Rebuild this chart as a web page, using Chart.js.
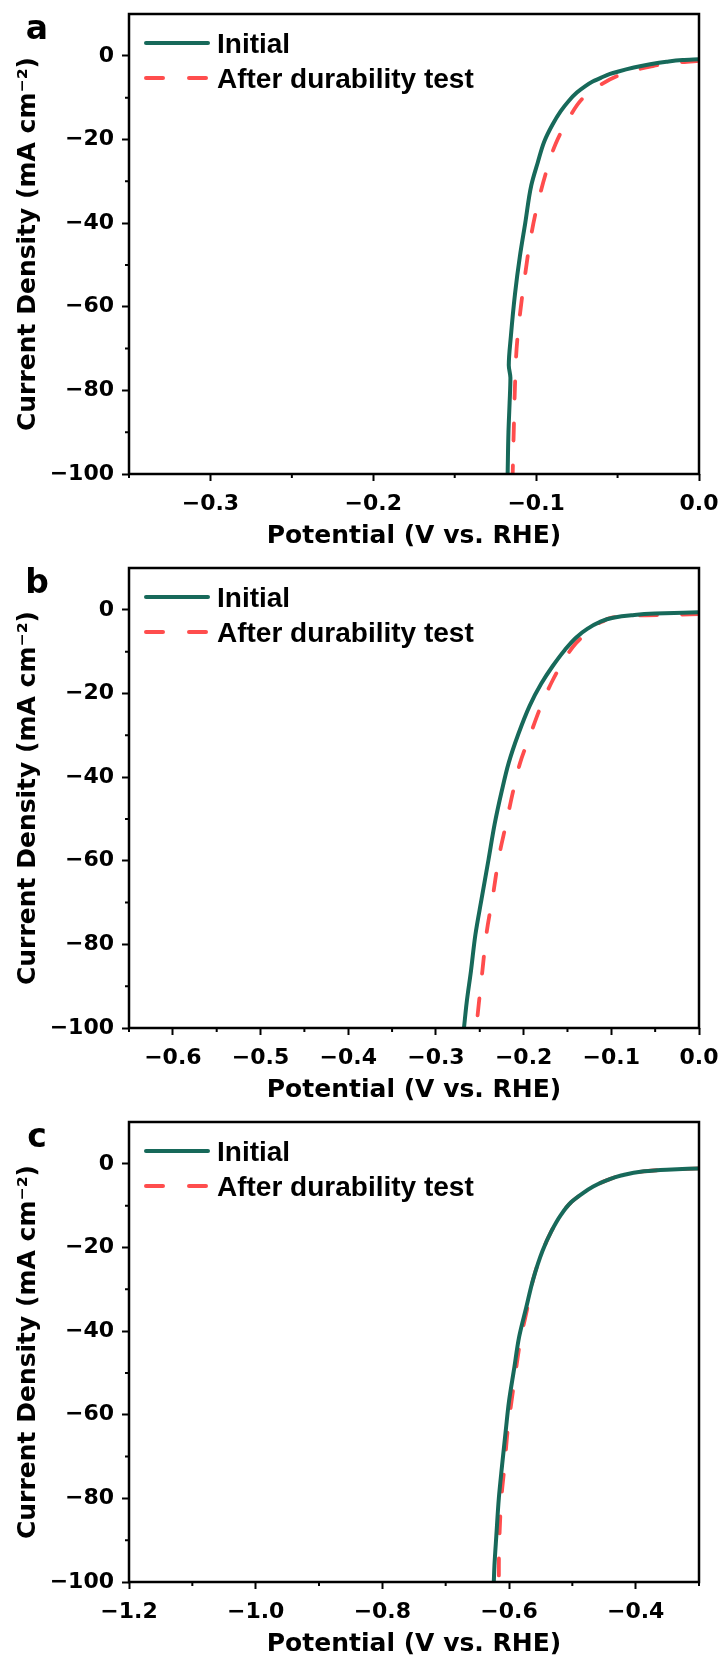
<!DOCTYPE html>
<html>
<head>
<meta charset="utf-8">
<script src="https://cdn.jsdelivr.net/npm/chart.js@4.4.1/dist/chart.umd.min.js"></script>
<style>
  html, body { margin: 0; padding: 0; background: #fff; }
  canvas { display: block; }
</style>
</head>
<body>
<canvas id="panelA" width="724" height="554"></canvas>
<canvas id="panelB" width="724" height="554"></canvas>
<canvas id="panelC" width="724" height="554"></canvas>
<script>
// tick labels
const yTicks = [0, -20, -40, -60, -80, -100];
const yMinor = [-10, -30, -50, -70, -90];
const xTicksA = [-0.3, -0.2, -0.1, 0.0];
const xMinorA = [-0.35, -0.25, -0.15, -0.05];
const xTicksB = [-0.6, -0.5, -0.4, -0.3, -0.2, -0.1, 0.0];
const xMinorB = [-0.65, -0.55, -0.45, -0.35, -0.25, -0.15, -0.05];
const xTicksC = [-1.2, -1.0, -0.8, -0.6, -0.4];
const xMinorC = [-1.1, -0.9, -0.7, -0.5, -0.3];

// panel a
const aInitialV = [0, -0.01, -0.02, -0.03, -0.04, -0.05, -0.055, -0.06, -0.065, -0.07, -0.075, -0.08, -0.085, -0.09, -0.095, -0.099, -0.103, -0.1067, -0.110, -0.113, -0.1155, -0.1168, -0.1158, -0.1163, -0.117, -0.1175];
const aInitialJ = [-0.8, -1.0, -1.4, -2.0, -2.8, -3.8, -4.4, -5.2, -6.1, -7.3, -8.8, -10.8, -13.3, -16.5, -20.5, -25.5, -31, -40, -48, -57, -67, -74, -77, -83, -90, -100];
const aAfterV = [0, -0.01, -0.02, -0.03, -0.04, -0.05, -0.06, -0.071, -0.08, -0.088, -0.094, -0.1, -0.104, -0.107, -0.110, -0.112, -0.113, -0.1137, -0.1144];
const aAfterJ = [-1.2, -1.5, -1.9, -2.6, -3.5, -4.8, -6.8, -10, -15, -21, -28, -37, -45, -53, -62, -70, -79, -89, -100];

// panel b
const bInitialV = [0, -0.05, -0.077, -0.098, -0.114, -0.127, -0.140, -0.153, -0.167, -0.180, -0.193, -0.206, -0.217, -0.225, -0.233, -0.240, -0.248, -0.255, -0.260, -0.265, -0.268];
const bInitialJ = [-0.6, -0.9, -1.3, -1.9, -3.0, -4.5, -6.6, -9.6, -13.5, -17.7, -22.9, -29.7, -36.6, -43.4, -51.2, -59.7, -69.2, -77.7, -86.3, -94, -100];
const bAfterV = [0, -0.035, -0.061, -0.088, -0.109, -0.124, -0.140, -0.153, -0.167, -0.180, -0.193, -0.204, -0.212, -0.220, -0.228, -0.235, -0.242, -0.247, -0.251, -0.254];
const bAfterJ = [-1.0, -1.2, -1.3, -1.6, -2.7, -4.9, -7.9, -11.7, -16.9, -22.9, -30.2, -36.6, -43.4, -51.2, -58.9, -68.3, -76.9, -86.3, -94, -100];

// panel c
const cInitialV = [-0.3, -0.351, -0.387, -0.423, -0.445, -0.467, -0.486, -0.502, -0.518, -0.533, -0.547, -0.562, -0.573, -0.584, -0.592, -0.600, -0.605, -0.611, -0.616, -0.620, -0.623, -0.624];
const cInitialJ = [-1.1, -1.4, -1.8, -2.8, -3.9, -5.4, -7.3, -9.2, -12.2, -16.1, -20.8, -27.7, -34.5, -41.4, -49.1, -56.8, -63.6, -72.2, -79.9, -88.9, -96.1, -100];
const cAfterV = [-0.3, -0.351, -0.387, -0.423, -0.445, -0.467, -0.486, -0.502, -0.518, -0.533, -0.547, -0.562, -0.571, -0.581, -0.589, -0.596, -0.602, -0.607, -0.612, -0.615, -0.616, -0.616];
const cAfterJ = [-1.1, -1.4, -1.8, -2.8, -3.9, -5.4, -7.3, -9.2, -12.2, -16.1, -20.8, -27.7, -34.5, -41.4, -49.1, -56.8, -63.6, -72.2, -79.9, -88.9, -96.1, -100];

const GREEN = '#17695A';
const RED = '#FF4D4D';
const tickFont = { family: '"DejaVu Sans"', size: 22, weight: 'bold' };
const titleFont = { family: '"DejaVu Sans"', size: 25, weight: 'bold' };

const toPoints = (vs, js) => vs.map((v, i) => ({ x: v, y: js[i] }));
const minus = (v, d) => (v < -1e-9 ? '\u2212' : '') + Math.abs(v).toFixed(d);

// frame, minor ticks, panel letter and legend
const decor = {
  id: 'decor',
  afterDraw(chart, args, opts) {
    const { ctx, chartArea: a, scales: { x, y } } = chart;
    ctx.save();
    ctx.strokeStyle = '#000';
    ctx.lineWidth = 2;
    ctx.beginPath();
    opts.xMinor.forEach(v => {
      const px = x.getPixelForValue(v);
      ctx.moveTo(px, a.bottom);
      ctx.lineTo(px, a.bottom + 4);
    });
    opts.yMinor.forEach(v => {
      const py = y.getPixelForValue(v);
      ctx.moveTo(a.left, py);
      ctx.lineTo(a.left - 4, py);
    });
    ctx.stroke();
    ctx.lineWidth = 2.5;
    ctx.strokeRect(a.left, a.top, a.right - a.left, a.bottom - a.top);

    ctx.fillStyle = '#000';
    ctx.font = 'bold 33px "DejaVu Sans"';
    ctx.textAlign = 'center';
    ctx.textBaseline = 'alphabetic';
    ctx.fillText(opts.letter, 37, 38.5);

    // legend
    ctx.lineWidth = 4;
    ctx.lineCap = 'round';
    ctx.strokeStyle = GREEN;
    ctx.beginPath();
    ctx.moveTo(146, 43); ctx.lineTo(208, 43);
    ctx.stroke();
    ctx.strokeStyle = RED;
    ctx.setLineDash([17, 26]);
    ctx.beginPath();
    ctx.moveTo(146, 78); ctx.lineTo(208, 78);
    ctx.stroke();
    ctx.setLineDash([]);
    ctx.font = 'bold 28px "Liberation Sans"';
    ctx.textAlign = 'left';
    ctx.fillText(chart.data.datasets[0].label, 217, 53);
    ctx.fillText(chart.data.datasets[1].label, 217, 88);
    ctx.restore();
  }
};

function buildPanel(id, letter, xMin, xMax, xMajor, xMinor, iV, iJ, dV, dJ) {
  return new Chart(document.getElementById(id), {
    type: 'line',
    data: {
      datasets: [{
        label: 'Initial',
        data: toPoints(iV, iJ),
        borderColor: GREEN,
        borderWidth: 4,
        pointRadius: 0,
        cubicInterpolationMode: 'monotone',
        fill: false,
      }, {
        label: 'After durability test',
        data: toPoints(dV, dJ),
        borderColor: RED,
        borderWidth: 3.8,
        borderDash: [17, 25],
        borderCapStyle: 'round',
        pointRadius: 0,
        cubicInterpolationMode: 'monotone',
        fill: false,
      }],
    },
    options: {
      indexAxis: 'y', // current density is monotone, so interpolate along it
      responsive: false,
      animation: false,
      events: [],
      layout: { padding: { top: 14, right: 25, left: 0, bottom: 0 } },
      plugins: {
        legend: { display: false },
        tooltip: { enabled: false },
        decor: { letter, xMinor, yMinor },
      },
      scales: {
        x: {
          type: 'linear',
          position: 'bottom',
          min: xMin,
          max: xMax,
          afterBuildTicks: s => { s.ticks = xMajor.map(v => ({ value: v })); },
          afterFit: s => { s.height = 80; s.paddingLeft = 0; s.paddingRight = 0; },
          ticks: { font: tickFont, color: '#000', padding: 10, maxRotation: 0, autoSkip: false, callback: v => minus(v, 1) },
          grid: { drawOnChartArea: false, tickLength: 7, tickWidth: 2, tickColor: '#000' },
          border: { display: false },
          title: { display: true, text: 'Potential (V vs. RHE)', font: titleFont, color: '#000', padding: { top: 0, bottom: 3 } },
        },
        y: {
          type: 'linear',
          position: 'left',
          min: -100,
          max: 10,
          afterBuildTicks: s => { s.ticks = yTicks.map(v => ({ value: v })); },
          afterFit: s => { s.width = 129; s.paddingTop = 0; s.paddingBottom = 0; },
          ticks: { font: tickFont, color: '#000', padding: 8, autoSkip: false, callback: v => minus(v, 0) },
          grid: { drawOnChartArea: false, tickLength: 7, tickWidth: 2, tickColor: '#000' },
          border: { display: false },
          title: { display: true, text: 'Current Density (mA cm\u207B\u00B2)', font: titleFont, color: '#000', padding: { top: 13, bottom: 0 } },
        },
      },
    },
    plugins: [decor],
  });
}

buildPanel('panelA', 'a', -0.35, 0, xTicksA, xMinorA, aInitialV, aInitialJ, aAfterV, aAfterJ);
buildPanel('panelB', 'b', -0.65, 0, xTicksB, xMinorB, bInitialV, bInitialJ, bAfterV, bAfterJ);
buildPanel('panelC', 'c', -1.2, -0.3, xTicksC, xMinorC, cInitialV, cInitialJ, cAfterV, cAfterJ);
</script>
</body>
</html>
